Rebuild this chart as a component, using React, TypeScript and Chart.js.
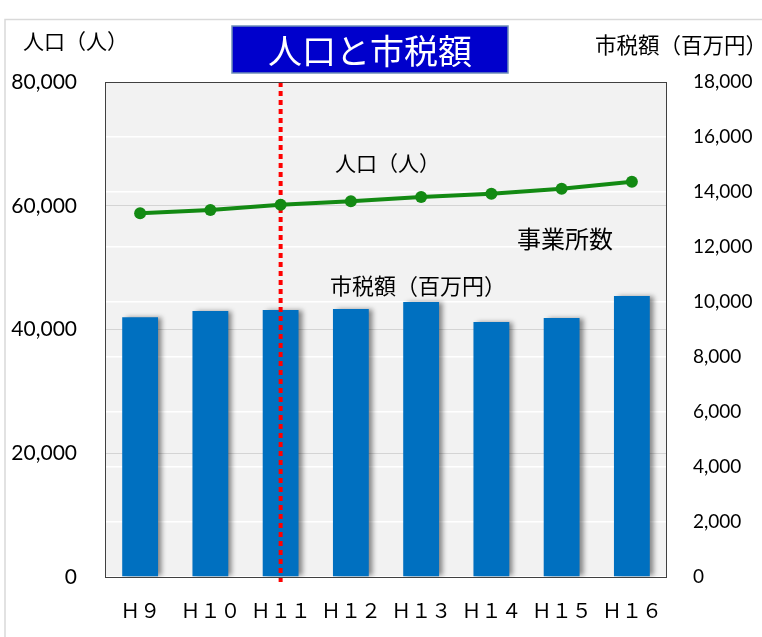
import React, { useEffect, useRef } from "react";
import { Chart, registerables } from "chart.js";

Chart.register(...registerables);

const categories = ["Ｈ９", "Ｈ１０", "Ｈ１１", "Ｈ１２", "Ｈ１３", "Ｈ１４", "Ｈ１５", "Ｈ１６"];
const population = [58780, 59310, 60170, 60720, 61410, 61950, 62760, 63890];
const taxRevenue = [9450, 9670, 9710, 9750, 10000, 9270, 9420, 10220];
const leftTicks = [0, 20000, 40000, 60000, 80000];
const rightTicks = [0, 2000, 4000, 6000, 8000, 10000, 12000, 14000, 16000, 18000];
const markerCategory = "Ｈ１１";

const JP = '"Noto Sans CJK JP", "Noto Sans", sans-serif';
const NUM = 'Lato, "Open Sans", sans-serif';

const fmt = (v: number) => v.toLocaleString("en-US");

const decorPlugin = {
  id: "decor",
  beforeDraw(chart: any) {
    const { ctx, chartArea: a, width, height } = chart;
    ctx.save();
    ctx.fillStyle = "#ffffff";
    ctx.fillRect(0, 0, width, height);
    ctx.strokeStyle = "#d9d9d9";
    ctx.lineWidth = 1.5;
    ctx.beginPath();
    ctx.moveTo(5, height);
    ctx.lineTo(5, 19.5);
    ctx.lineTo(width, 19.5);
    ctx.stroke();
    ctx.fillStyle = "#f2f2f2";
    ctx.fillRect(a.left, a.top, a.right - a.left, a.bottom - a.top);
    ctx.restore();
  },
  beforeDatasetDraw(chart: any, args: any) {
    if (args.meta.type === "bar") {
      const ctx = chart.ctx;
      ctx.save();
      ctx.shadowColor = "rgba(0,0,0,0.45)";
      ctx.shadowOffsetX = 4;
      ctx.shadowOffsetY = 0;
      ctx.shadowBlur = 5;
    }
  },
  afterDatasetDraw(chart: any, args: any) {
    if (args.meta.type === "bar") {
      const { ctx, chartArea: a } = chart;
      ctx.restore();
      const x = chart.scales.x.getPixelForValue(categories.indexOf(markerCategory));
      ctx.save();
      ctx.strokeStyle = "#ff0000";
      ctx.lineWidth = 4;
      ctx.setLineDash([5, 4]);
      ctx.beginPath();
      ctx.moveTo(x, a.top);
      ctx.lineTo(x, a.bottom + 5);
      ctx.stroke();
      ctx.restore();
    }
  },
  afterDatasetsDraw(chart: any) {
    const { ctx, chartArea: a } = chart;
    ctx.save();
    ctx.strokeStyle = "#404040";
    ctx.lineWidth = 1;
    ctx.strokeRect(a.left + 0.5, a.top + 0.5, a.right - a.left - 1, a.bottom - a.top);
    ctx.fillStyle = "#0000cc";
    ctx.fillRect(232, 26, 276, 47);
    ctx.strokeStyle = "#6f8fb8";
    ctx.lineWidth = 1.5;
    ctx.strokeRect(232, 26, 276, 47);
    ctx.fillStyle = "#ffffff";
    ctx.font = `34px ${JP}`;
    ctx.textAlign = "center";
    ctx.textBaseline = "middle";
    ctx.fillText("人口と市税額", 370, 51);
    ctx.fillStyle = "#000000";
    ctx.textAlign = "left";
    ctx.font = `21px ${JP}`;
    ctx.fillText("人口（人）", 23, 41);
    ctx.font = `21.5px ${JP}`;
    ctx.fillText("市税額（百万円）", 595, 45);
    ctx.font = `21px ${JP}`;
    ctx.fillText("人口（人）", 335, 163);
    ctx.font = `24px ${JP}`;
    ctx.fillText("事業所数", 517, 239);
    ctx.font = `22px ${JP}`;
    ctx.fillText("市税額（百万円）", 330, 286);
    ctx.restore();
  },
};

export default function App() {
  const ref = useRef<HTMLCanvasElement | null>(null);
  useEffect(() => {
    document.body.style.margin = "0";
    const canvas = ref.current;
    if (!canvas) return;
    const chart = new Chart(canvas, {
      type: "bar",
      data: {
        labels: categories,
        datasets: [
          {
            type: "line",
            label: "人口（人）",
            data: population,
            yAxisID: "yL",
            borderColor: "#138a13",
            backgroundColor: "#138a13",
            borderWidth: 4,
            pointRadius: 6,
            pointBackgroundColor: "#138a13",
            pointBorderWidth: 0,
            order: 0,
          } as any,
          {
            type: "bar",
            label: "市税額（百万円）",
            data: taxRevenue,
            yAxisID: "yR",
            backgroundColor: "#0070c0",
            barPercentage: 0.51,
            categoryPercentage: 1,
            order: 1,
          },
        ],
      },
      options: {
        responsive: false,
        animation: false,
        layout: { padding: { top: 82, left: 0, right: 0, bottom: 0 } },
        plugins: { legend: { display: false }, tooltip: { enabled: false }, title: { display: false } },
        scales: {
          x: {
            grid: { display: false },
            border: { display: false },
            ticks: { color: "#000", font: { family: JP, size: 20 }, padding: 13, maxRotation: 0, autoSkip: false },
            afterFit: (s: any) => { s.height = 60; },
          },
          yL: {
            position: "left",
            min: 0,
            max: 80000,
            afterBuildTicks: (s: any) => { s.ticks = leftTicks.map((v) => ({ value: v })); },
            grid: { color: "#d4d4d4", lineWidth: 1, drawTicks: false },
            border: { display: false },
            ticks: { color: "#000", font: { family: NUM, size: 21 }, padding: 28, callback: (v: any) => fmt(Number(v)) },
            afterFit: (s: any) => { s.width = 105; },
          },
          yR: {
            position: "right",
            min: 0,
            max: 18000,
            afterBuildTicks: (s: any) => { s.ticks = rightTicks.map((v) => ({ value: v })); },
            grid: { color: "#ffffff", lineWidth: 1.5, drawTicks: false },
            border: { display: false },
            ticks: { color: "#000", font: { family: NUM, size: 19 }, padding: 26, callback: (v: any) => fmt(Number(v)) },
            afterFit: (s: any) => { s.width = 95; },
          },
        },
      },
      plugins: [decorPlugin],
    });
    return () => chart.destroy();
  }, []);
  return (
    <div style={{ width: 762, height: 637 }}>
      <canvas ref={ref} width={762} height={637} />
    </div>
  );
}
